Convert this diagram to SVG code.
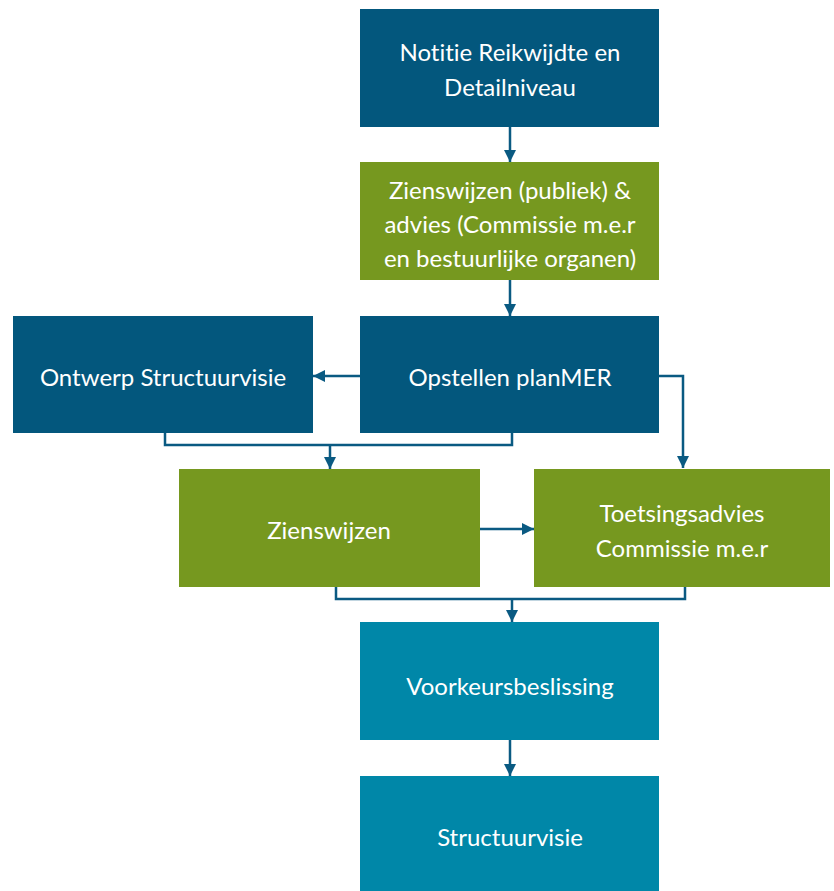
<svg xmlns="http://www.w3.org/2000/svg" width="834" height="891" viewBox="0 0 834 891">
<style>
.blue{fill:#03577D}
.green{fill:#76981F}
.teal{fill:#0087A8}
text{font-family:Lato,"Open Sans","Liberation Sans",sans-serif;font-size:24px;fill:#ffffff;text-anchor:middle;dominant-baseline:central;font-variant-ligatures:none}
.c{fill:none;stroke:#0A5A82;stroke-width:2.5}
</style>
<defs>
<marker id="ah" viewBox="0 0 10 10" refX="10" refY="5" markerWidth="4.8" markerHeight="4.8" orient="auto" markerUnits="strokeWidth">
<path d="M0,0 L10,5 L0,10 Z" fill="#0A5A82"/>
</marker>
</defs>
<rect width="834" height="891" fill="#ffffff"/>
<g id="connectors">
<path class="c" d="M510,127 V162" marker-end="url(#ah)"/>
<path class="c" d="M510,280 V316" marker-end="url(#ah)"/>
<path class="c" d="M360,376 H313" marker-end="url(#ah)"/>
<path class="c" d="M659,376 H683 V468" marker-end="url(#ah)"/>
<path class="c" d="M165,433 V445 H512 V433"/>
<path class="c" d="M330,445 V469" marker-end="url(#ah)"/>
<path class="c" d="M480,529 H534" marker-end="url(#ah)"/>
<path class="c" d="M336,587 V599 H685 V587"/>
<path class="c" d="M512,599 V622" marker-end="url(#ah)"/>
<path class="c" d="M510,740 V776" marker-end="url(#ah)"/>
</g>
<g id="n1"><rect class="blue" x="360" y="9" width="299" height="118"/><text x="510" y="51">Notitie Reikwijdte en</text><text x="510" y="86">Detailniveau</text></g>
<g id="n2"><rect class="green" x="360" y="162" width="299" height="118"/><text x="510" y="189">Zienswijzen (publiek) &amp;</text><text x="510" y="223">advies (Commissie m.e.r</text><text x="510" y="257">en bestuurlijke organen)</text></g>
<g id="n3"><rect class="blue" x="360" y="316" width="299" height="117"/><text x="510" y="376">Opstellen planMER</text></g>
<g id="n4"><rect class="blue" x="13" y="316" width="300" height="117"/><text x="163" y="376">Ontwerp Structuurvisie</text></g>
<g id="n5"><rect class="green" x="179" y="469" width="301" height="118"/><text x="329" y="529">Zienswijzen</text></g>
<g id="n6"><rect class="green" x="534" y="469" width="296" height="118"/><text x="682" y="512">Toetsingsadvies</text><text x="682" y="547">Commissie m.e.r</text></g>
<g id="n7"><rect class="teal" x="360" y="622" width="299" height="118"/><text x="510" y="685">Voorkeursbeslissing</text></g>
<g id="n8"><rect class="teal" x="360" y="776" width="299" height="115"/><text x="510" y="836">Structuurvisie</text></g>
</svg>
